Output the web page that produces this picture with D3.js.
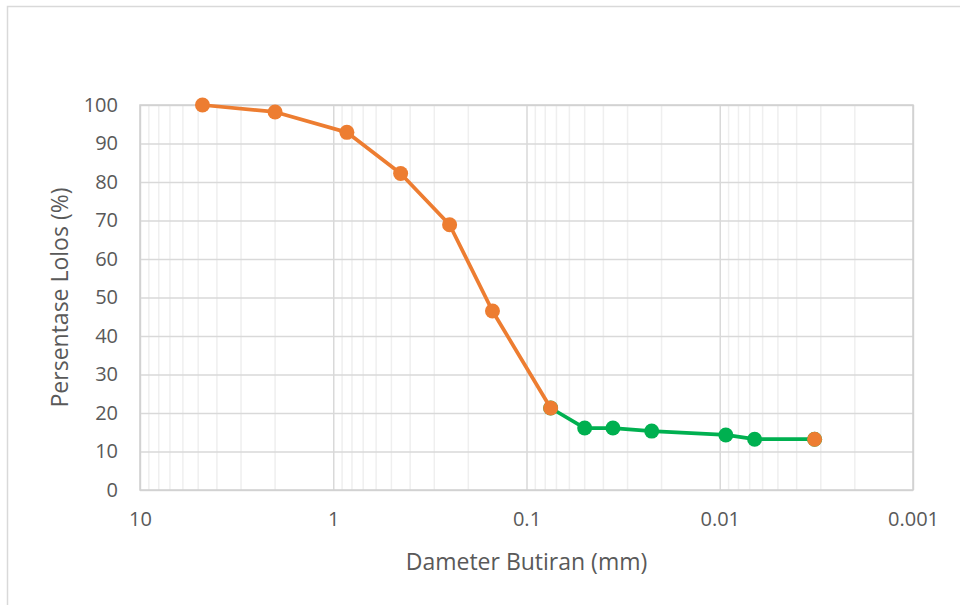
<!DOCTYPE html>
<html>
<head>
<meta charset="utf-8">
<script src="https://cdn.jsdelivr.net/npm/d3@7"></script>
<style>
  body { margin: 0; background: #fff; }
  svg text { font-family: "Open Sans", "Noto Sans", sans-serif; fill: #595959; }
</style>
</head>
<body>
<div id="chart"></div>
<script>
// sieve analysis (orange) and hydrometer (green)
const sieveSize = [4.75, 2.0, 0.85, 0.448, 0.25, 0.15, 0.075];
const sievePass = [100, 98.2, 92.9, 82.2, 68.9, 46.5, 21.3];
const hydroSize = [0.075, 0.05, 0.0357, 0.0225, 0.0093, 0.0066, 0.00323];
const hydroPass = [21.3, 16.1, 16.1, 15.3, 14.3, 13.2, 13.2];
const endSize = [0.00323];
const endPass = [13.2];
const xTicks = [10, 1, 0.1, 0.01, 0.001];
const yTicks = [0, 10, 20, 30, 40, 50, 60, 70, 80, 90, 100];

const W = 960, H = 605;
const margin = { top: 105, right: 47, bottom: 115, left: 140 };
const width = W - margin.left - margin.right;
const height = H - margin.top - margin.bottom;

const svgRoot = d3.select("#chart").append("svg")
    .attr("width", W)
    .attr("height", H);

// chart frame
svgRoot.append("rect")
    .attr("x", 7.5).attr("y", 6.5)
    .attr("width", W + 20).attr("height", H + 20)
    .attr("fill", "none")
    .attr("stroke", "#d9d9d9")
    .attr("stroke-width", 1.5);

const svg = svgRoot.append("g")
    .attr("transform", `translate(${margin.left}, ${margin.top})`);

const x = d3.scaleLog().domain([10, 0.001]).range([0, width]);
const y = d3.scaleLinear().domain([0, 100]).range([height, 0]);

// minor vertical grid
const minor = [];
for (let e = -3; e < 1; e++) {
    for (let m = 2; m <= 9; m++) minor.push(m * Math.pow(10, e));
}
svg.append("g")
    .selectAll("line")
    .data(minor)
    .join("line")
    .attr("x1", d => x(d)).attr("x2", d => x(d))
    .attr("y1", 0).attr("y2", height)
    .attr("stroke", "#efefef")
    .attr("stroke-width", 1.5);

// major vertical grid
svg.append("g")
    .call(d3.axisBottom(x).tickValues(xTicks).tickSize(height).tickFormat(""))
    .call(g => g.select(".domain").remove())
    .call(g => g.selectAll("line").attr("stroke", "#d9d9d9").attr("stroke-width", 1.5));

// horizontal grid
svg.append("g")
    .call(d3.axisLeft(y).tickValues(yTicks).tickSize(-width).tickFormat(""))
    .call(g => g.select(".domain").remove())
    .call(g => g.selectAll("line").attr("stroke", "#d9d9d9").attr("stroke-width", 1.5));

// axes frame
svg.append("rect")
    .attr("x", 0).attr("y", 0)
    .attr("width", width).attr("height", height)
    .attr("fill", "none")
    .attr("stroke", "#d0d0d0")
    .attr("stroke-width", 1.5);

// tick labels
svg.append("g")
    .attr("transform", `translate(0, ${height})`)
    .call(d3.axisBottom(x).tickValues(xTicks).tickSize(0).tickPadding(22).tickFormat(d => String(d)))
    .call(g => g.select(".domain").remove())
    .call(g => g.selectAll("text").attr("font-size", 20).attr("fill", "#595959")
        .style("font-family", "'Open Sans', sans-serif"));

svg.append("g")
    .call(d3.axisLeft(y).tickValues(yTicks).tickSize(0).tickPadding(22))
    .call(g => g.select(".domain").remove())
    .call(g => g.selectAll("text").attr("font-size", 20).attr("fill", "#595959")
        .style("font-family", "'Open Sans', sans-serif"));

// lines
const line = d3.line().x(d => x(d[0])).y(d => y(d[1]));
const hydro = hydroSize.map((d, i) => [d, hydroPass[i]]);
const sieve = sieveSize.map((d, i) => [d, sievePass[i]]);
const endPt = endSize.map((d, i) => [d, endPass[i]]);

svg.append("path")
    .datum(hydro)
    .attr("d", line)
    .attr("fill", "none")
    .attr("stroke", "#00b050")
    .attr("stroke-width", 3.75)
    .attr("stroke-linejoin", "round");

svg.append("g")
    .selectAll("circle")
    .data(hydro)
    .join("circle")
    .attr("cx", d => x(d[0]))
    .attr("cy", d => y(d[1]))
    .attr("r", 7.5)
    .attr("fill", "#00b050");

svg.append("path")
    .datum(sieve)
    .attr("d", line)
    .attr("fill", "none")
    .attr("stroke", "#ed7d31")
    .attr("stroke-width", 3.75)
    .attr("stroke-linejoin", "round");

svg.append("g")
    .selectAll("circle")
    .data(sieve.concat(endPt))
    .join("circle")
    .attr("cx", d => x(d[0]))
    .attr("cy", d => y(d[1]))
    .attr("r", 7.5)
    .attr("fill", "#ed7d31");

// axis titles
svg.append("text")
    .attr("x", width / 2)
    .attr("y", height + 80)
    .attr("text-anchor", "middle")
    .attr("font-size", 23)
    .text("Dameter Butiran (mm)");

svg.append("text")
    .attr("transform", `translate(${-72}, ${height / 2}) rotate(-90)`)
    .attr("text-anchor", "middle")
    .attr("font-size", 23)
    .text("Persentase Lolos (%)");
</script>
</body>
</html>
